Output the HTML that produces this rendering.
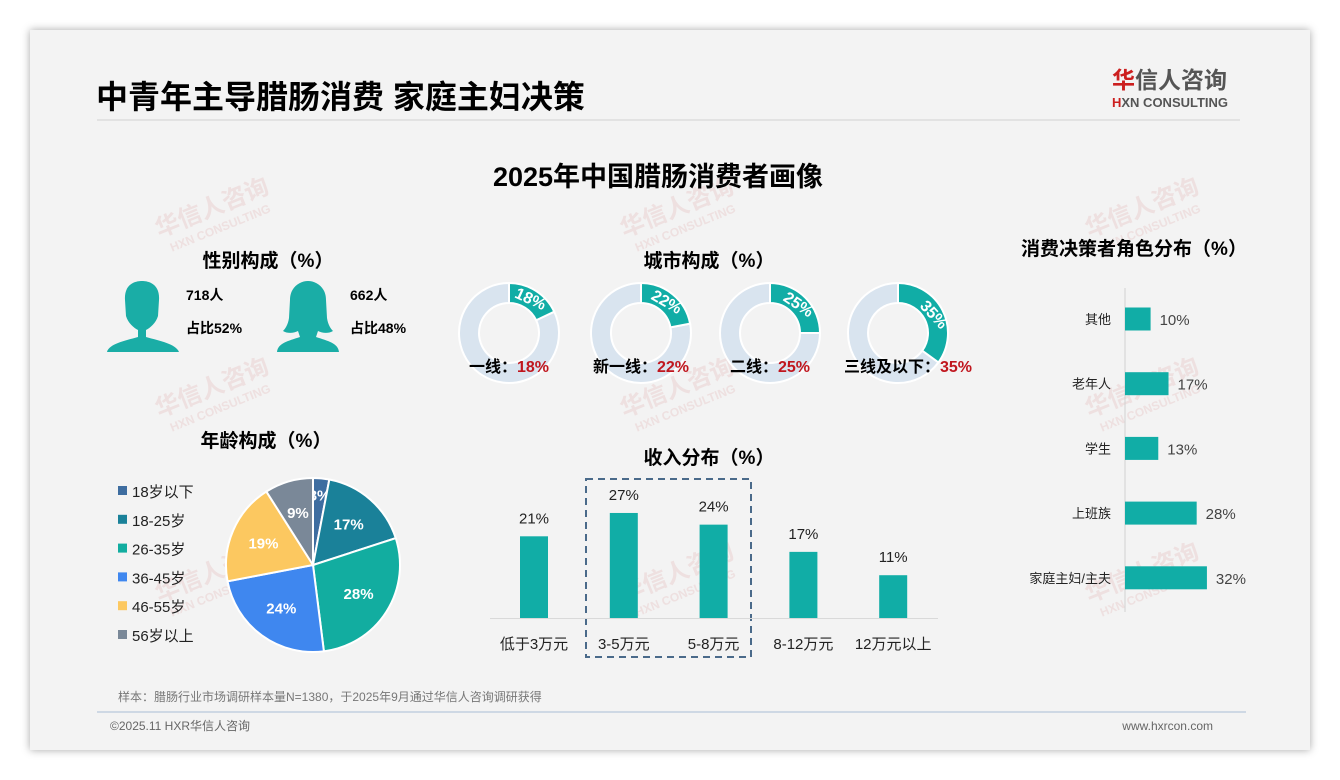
<!DOCTYPE html>
<html lang="zh">
<head>
<meta charset="utf-8">
<style>
  html,body{margin:0;padding:0;width:1340px;height:780px;background:#ffffff;overflow:hidden;}
  body{font-family:"Liberation Sans","Noto Sans CJK SC",sans-serif;}
  #card{position:absolute;left:30px;top:30px;width:1280px;height:720px;background:#f3f3f3;box-shadow:0 0 8px rgba(0,0,0,0.35);}
  svg{position:absolute;left:0;top:0;}
  text{font-family:"Liberation Sans","Noto Sans CJK SC",sans-serif;}
</style>
</head>
<body>
<div id="card"></div>
<svg id="s" width="1340" height="780" viewBox="0 0 1340 780">
  <text x="96" y="108" font-size="32" font-weight="bold" fill="#000">中青年主导腊肠消费 家庭主妇决策</text>
  <line x1="97" y1="120" x2="1240" y2="120" stroke="#dcdcdc" stroke-width="1.5"/>
  <g>
    <text x="1112" y="88" font-size="23" font-weight="bold" fill="#cc1f1f">华</text>
    <text x="1135" y="88" font-size="23" font-weight="bold" fill="#555">信人咨询</text>
    <text x="1112" y="107" font-size="13" font-weight="bold" fill="#555"><tspan fill="#cc1f1f">H</tspan>XN CONSULTING</text>
  </g>

  <g id="wm" fill="#e8c9c9" opacity="0.45"></g>

  <text x="658" y="186" font-size="27" font-weight="bold" text-anchor="middle" fill="#000">2025年中国腊肠消费者画像</text>

  <text x="268" y="267" font-size="19" font-weight="bold" text-anchor="middle" fill="#000">性别构成（%）</text>
  <g fill="#1aada6">
    <path d="M125,300 C124,285 134,281 142,281 C150,281 160,285 159,300 L158,316 C156,323 150,328 146,330 L146,337 C160,341 176,344 179,352 L107,352 C109,344 124,341 138,337 L138,330 C134,328 128,323 126,316 Z"/>
  </g>
  <g fill="#1aada6">
    <path d="M290,300 C290,287 300,281 308,281 C316,281 326,287 326,300 L327,318 C328,325 331,329 333,331 C328,334 322,333 318,331 L316,337 C328,341 338,343 339,352 L277,352 C278,343 288,341 300,337 L298,331 C294,333 288,334 283,331 C285,329 288,325 289,318 Z"/>
  </g>
  <text x="186" y="300" font-size="14" font-weight="bold" fill="#000">718人</text>
  <text x="186" y="333" font-size="14" font-weight="bold" fill="#000">占比52%</text>
  <text x="350" y="300" font-size="14" font-weight="bold" fill="#000">662人</text>
  <text x="350" y="333" font-size="14" font-weight="bold" fill="#000">占比48%</text>

  <text x="709" y="267" font-size="19" font-weight="bold" text-anchor="middle" fill="#000">城市构成（%）</text>
  <g id="donuts"></g>

  <text x="266" y="447" font-size="19" font-weight="bold" text-anchor="middle" fill="#000">年龄构成（%）</text>
  <g id="pie"></g>
  <g id="legend"></g>

  <text x="709" y="464" font-size="19" font-weight="bold" text-anchor="middle" fill="#000">收入分布（%）</text>
  <rect x="586" y="479" width="165" height="178" fill="none" stroke="#4a6a8a" stroke-width="2" stroke-dasharray="7,5"/>
  <g id="income"></g>

  <text x="1134" y="255" font-size="19" font-weight="bold" text-anchor="middle" fill="#000">消费决策者角色分布（%）</text>
  <g id="role"></g>

  <text x="118" y="701" font-size="12" fill="#777">样本：腊肠行业市场调研样本量N=1380，于2025年9月通过华信人咨询调研获得</text>
  <line x1="97" y1="712" x2="1246" y2="712" stroke="#a8bcd6" stroke-width="1"/>
  <text x="110" y="730" font-size="12" fill="#666">©2025.11 HXR华信人咨询</text>
  <text x="1213" y="730" font-size="12" fill="#666" text-anchor="end">www.hxrcon.com</text>
</svg>
<script>
const NS="http://www.w3.org/2000/svg";
function mk(tag,attrs,parent){const e=document.createElementNS(NS,tag);for(const k in attrs)e.setAttribute(k,attrs[k]);parent.appendChild(e);return e;}

const cityLabels=["一线：","新一线：","二线：","三线及以下："];
const cityValues=[18,22,25,35];
const ageLabels=["18岁以下","18-25岁","26-35岁","36-45岁","46-55岁","56岁以上"];
const ageValues=[3,17,28,24,19,9];
const incomeLabels=["低于3万元","3-5万元","5-8万元","8-12万元","12万元以上"];
const incomeValues=[21,27,24,17,11];
const roleLabels=["其他","老年人","学生","上班族","家庭主妇/主夫"];
const roleValues=[10,17,13,28,32];

const TEAL="#11ada6";

const wm=document.getElementById('wm');
[[215,215],[680,215],[1145,215],[215,395],[680,395],[1145,395],[215,580],[680,580],[1145,580]].forEach(p=>{
  const g=mk('g',{transform:`translate(${p[0]},${p[1]}) rotate(-22)`},wm);
  
  
  mk('text',{x:0,y:0,'font-size':24,'font-weight':'bold','text-anchor':'middle'},g).textContent="华信人咨询";
  mk('text',{x:0,y:18,'font-size':12,'font-weight':'bold','text-anchor':'middle'},g).textContent="HXN CONSULTING";
});

const donuts=document.getElementById('donuts');
const dcx=[509,641,770,898], dcy=333, R=50, r=30;
function arcPath(cx,cy,R0,R1,a0,a1){
  const p=(rad,a)=>[cx+rad*Math.sin(a),cy-rad*Math.cos(a)];
  const large=(a1-a0)>Math.PI?1:0;
  const [x0,y0]=p(R0,a0),[x1,y1]=p(R0,a1),[x2,y2]=p(R1,a1),[x3,y3]=p(R1,a0);
  return `M${x0},${y0} A${R0},${R0} 0 ${large} 1 ${x1},${y1} L${x2},${y2} A${R1},${R1} 0 ${large} 0 ${x3},${y3} Z`;
}
cityValues.forEach((v,i)=>{
  const cx=dcx[i];
  const a=v/100*2*Math.PI;
  const bg=mk('path',{d:arcPath(cx,dcy,R,r,a,2*Math.PI-0.0001),fill:"#d9e4ef",stroke:"#fff","stroke-width":2},donuts);
  
  
  const fg=mk('path',{d:arcPath(cx,dcy,R,r,0,a),fill:TEAL,stroke:"#fff","stroke-width":2},donuts);
  
  
  const mid=a/2, rr=(R+r)/2;
  const tx=cx+rr*Math.sin(mid), ty=dcy-rr*Math.cos(mid);
  const deg=mid*180/Math.PI*0.75;
  const t=mk('text',{x:tx,y:ty+5,'font-size':16,'font-weight':'bold',fill:'#fff','text-anchor':'middle',transform:`rotate(${deg} ${tx} ${ty})`},donuts);
  
  
  t.textContent=v+"%";
  const lab=mk('text',{x:cx+(i==3?10:0),y:372,'font-size':16,'font-weight':'bold','text-anchor':'middle'},donuts);
  
  
  const s1=mk('tspan',{fill:'#000'},lab); s1.textContent=cityLabels[i];
  const s2=mk('tspan',{fill:'#c0161e'},lab); s2.textContent=v+"%";
});

const pie=document.getElementById('pie');
const ageColors=["#3e6da0","#1a8199","#12ada0","#3f87ef","#fcc860","#7a8898"];
const pcx=313,pcy=565,PR=87;
const total=ageValues.reduce((a,b)=>a+b,0);
let acc=0;
ageValues.forEach((v,i)=>{
  const a0=acc/total*2*Math.PI; acc+=v; const a1=acc/total*2*Math.PI;
  const p=(a)=>[pcx+PR*Math.sin(a),pcy-PR*Math.cos(a)];
  const [x0,y0]=p(a0),[x1,y1]=p(a1);
  const sl=mk('path',{d:`M${pcx},${pcy} L${x0},${y0} A${PR},${PR} 0 ${(a1-a0)>Math.PI?1:0} 1 ${x1},${y1} Z`,fill:ageColors[i],stroke:'#fff','stroke-width':2},pie);
  
  
  const mid=(a0+a1)/2, lr=v<5?PR*0.8:PR*0.62;
  const t=mk('text',{x:pcx+lr*Math.sin(mid),y:pcy-lr*Math.cos(mid)+5,'font-size':15,'font-weight':'bold',fill:'#fff','text-anchor':'middle'},pie);
  
  
  t.textContent=v+"%";
});
const legend=document.getElementById('legend');
ageLabels.forEach((l,i)=>{
  const y=491+i*28.8;
  const sw=mk('rect',{x:118,y:y-5,width:9,height:9,fill:ageColors[i]},legend);
  
  
  const t=mk('text',{x:132,y:y+6,'font-size':15,fill:'#222'},legend);
  
  
  t.textContent=l;
});

const inc=document.getElementById('income');
const baseY=618, pxPer=3.89, bw=28;
const xC=i=>534+i*89.8;
const yS=v=>baseY-v*pxPer;
const ax=mk('line',{x1:490,y1:baseY+0.5,x2:938,y2:baseY+0.5,stroke:'#d9d9d9','stroke-width':1},inc);


incomeValues.forEach((v,i)=>{
  const b=mk('rect',{x:xC(i)-bw/2,y:yS(v),width:bw,height:baseY-yS(v),fill:TEAL},inc);
  
  
  const t=mk('text',{x:xC(i),y:yS(v)-13,'font-size':15,fill:'#222','text-anchor':'middle'},inc);
  
  
  t.textContent=v+"%";
  const c=mk('text',{x:xC(i),y:649,'font-size':15,fill:'#222','text-anchor':'middle'},inc);
  
  
  c.textContent=incomeLabels[i];
});

const role=document.getElementById('role');
const rx0=1125, rPx=2.56, bh=23;
const yR=i=>319+i*64.7;
const ra=mk('line',{x1:rx0,y1:288,x2:rx0,y2:612,stroke:'#d0d0d0','stroke-width':1},role);


roleValues.forEach((v,i)=>{
  const b=mk('rect',{x:rx0,y:yR(i)-bh/2,width:v*rPx,height:bh,fill:TEAL},role);
  
  
  const t=mk('text',{x:rx0+v*rPx+9,y:yR(i)+6,'font-size':15,fill:'#444'},role);
  
  
  t.textContent=v+"%";
  const c=mk('text',{x:1111,y:yR(i)+5,'font-size':13,fill:'#222','text-anchor':'end'},role);
  
  
  c.textContent=roleLabels[i];
});
</script>
</body>
</html>
